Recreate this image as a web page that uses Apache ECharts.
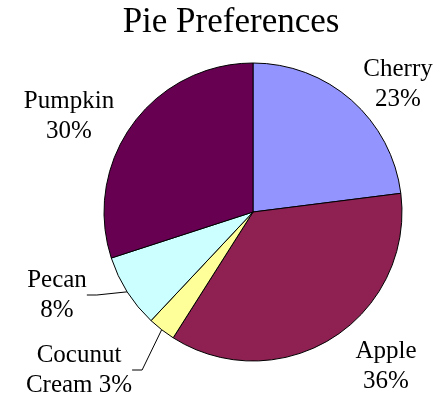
<!DOCTYPE html>
<html><head><meta charset="utf-8">
<script src="https://cdn.jsdelivr.net/npm/echarts@6/dist/echarts.min.js"></script>
<style>html,body{margin:0;padding:0;background:#fff}#c{width:448px;height:395px}</style>
</head><body><div id="c"></div>
<script>
const categories = ["Cherry", "Apple", "Cocunut Cream", "Pecan", "Pumpkin"];
const values = [23, 36, 3, 8, 30];
const labelTexts = ["Cherry\n23%", "Apple\n36%", "Cocunut\nCream 3%", "Pecan\n8%", "Pumpkin\n30%"];
const colors = ["#9494FF", "#8E2152", "#FFFF99", "#CCFFFF", "#680052"];
const labelPos = [[398, 84], [386, 366], [79, 370], [57, 295], [69, 116]];
const showLine = [false, false, true, true, false];

const chart = echarts.init(document.getElementById('c'), null, {renderer: 'canvas'});
chart.setOption({
  backgroundColor: '#fff',
  animation: false,
  title: {
    text: 'Pie Preferences', left: 226, top: 0, textAlign: 'center',
    textStyle: {fontFamily: 'Liberation Serif', fontSize: 35, fontWeight: 'normal', color: '#000'}
  },
  series: [{
    type: 'pie',
    center: [253, 212],
    radius: 149,
    startAngle: 90,
    clockwise: true,
    itemStyle: {borderColor: '#000', borderWidth: 1},
    label: {
      show: true, position: 'outside', color: '#000', overflow: 'none',
      fontFamily: 'Liberation Serif', fontSize: 25, lineHeight: 30, align: 'center',
      formatter: p => labelTexts[p.dataIndex]
    },
    labelLine: {lineStyle: {color: '#000', width: 1}, length: 10, length2: 10},
    labelLayout: p => ({x: labelPos[p.dataIndex][0], y: labelPos[p.dataIndex][1], align: 'center', verticalAlign: 'middle'}),
    data: categories.map((c, i) => ({
      name: c, value: values[i],
      itemStyle: {color: colors[i]},
      labelLine: {show: showLine[i]}
    }))
  }]
});
</script></body></html>
